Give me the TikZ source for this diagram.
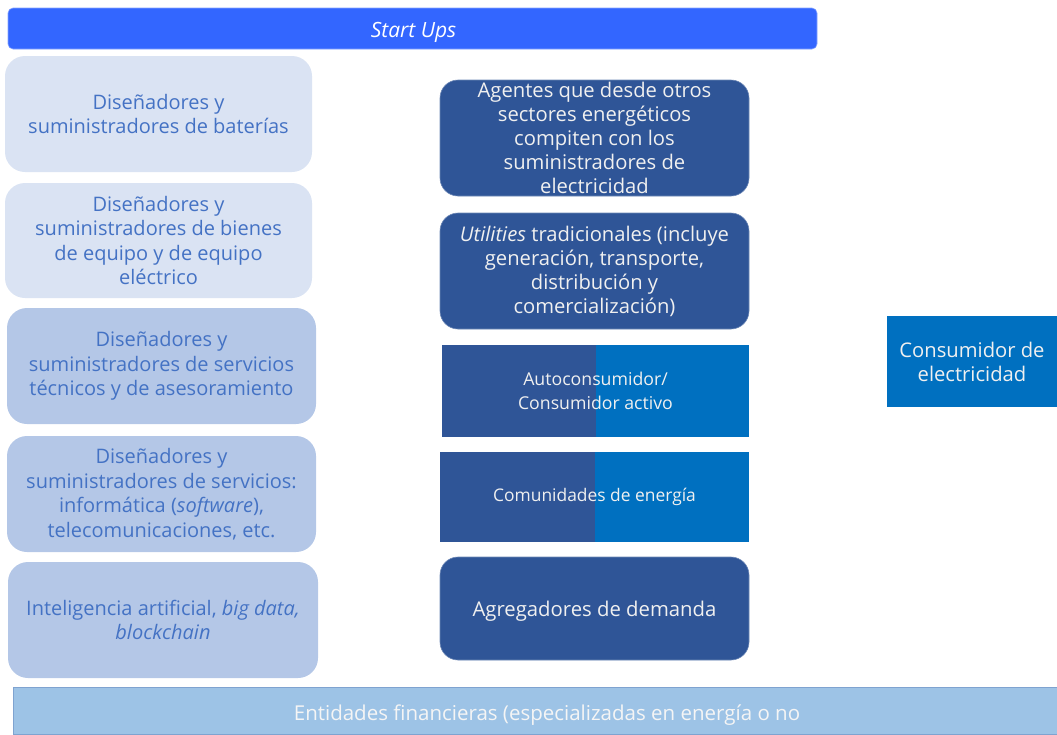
\documentclass[tikz,border=0pt]{standalone}
\usepackage{fontspec}
\setmainfont{Open Sans}
\definecolor{startblue}{HTML}{3366FF}
\definecolor{lightA}{HTML}{DAE3F3}
\definecolor{lightB}{HTML}{B4C7E7}
\definecolor{txtblue}{HTML}{4472C4}
\definecolor{darkblue}{HTML}{2F5597}
\definecolor{midblue}{HTML}{0070C0}
\definecolor{finblue}{HTML}{9DC3E6}
\definecolor{finedge}{HTML}{7FA3D0}
\tikzset{
  lbox/.style={rounded corners=20pt, align=center, inner sep=0pt, text=txtblue,
    font=\fontsize{20}{24.5}\selectfont},
  mbox/.style={rounded corners=18pt, fill=darkblue, draw=darkblue!70!white, line width=0.6pt,
    align=center, inner sep=0pt, text=white!94!black, font=\fontsize{20.2}{24}\selectfont},
  splitbox/.style={fill=darkblue, align=center, inner sep=0pt, text=white!94!black,
    path picture={\fill[midblue] (path picture bounding box.north) rectangle (path picture bounding box.south east);}},
}
\begin{document}
\begin{tikzpicture}[x=1pt,y=-1pt]
\useasboundingbox (0,0) rectangle (1057,734);
\node[rounded corners=5pt, fill=startblue, draw=startblue!60!white, line width=0.6pt,
  minimum width=809pt, minimum height=41pt, inner sep=0pt] (start) at (412.5,28.5) {};
\node[inner sep=0pt, text=white, font=\fontsize{21}{24}\selectfont\itshape, text depth=0pt]
  (starttext) at (413.5,30) {Start Ups};

\node[lbox, fill=lightA, minimum width=307pt, minimum height=116pt] (l1) at (158.5,114)
  {Diseñadores y\\suministradores de baterías};
\node[lbox, fill=lightA, minimum width=307pt, minimum height=115pt] (l2) at (158.5,240.5)
  {Diseñadores y\\suministradores de bienes\\de equipo y de equipo\\eléctrico};
\node[lbox, fill=lightB, minimum width=309pt, minimum height=116pt] (l3) at (161.5,366)
  {Diseñadores y\\suministradores de servicios\\técnicos y de asesoramiento};
\node[lbox, fill=lightB, minimum width=309pt, minimum height=116pt] (l4) at (161.5,494)
  {Diseñadores y\\suministradores de servicios:\\informática (\textit{software}),\\telecomunicaciones, etc.};
\node[lbox, fill=lightB, minimum width=310pt, minimum height=116pt] (l5) at (163,620)
  {Inteligencia artificial, \textit{big data,}\\\textit{blockchain}};

\node[mbox, minimum width=309pt, minimum height=116pt] (m1) at (594.5,138)
  {Agentes que desde otros\\sectores energéticos\\compiten con los\\suministradores de\\electricidad};
\node[mbox, minimum width=309pt, minimum height=116pt] (m2) at (594.5,271)
  {\textit{Utilities} tradicionales (incluye\\generación, transporte,\\distribución y\\comercialización)};
\node[splitbox, minimum width=307pt, minimum height=92pt, font=\fontsize{17.7}{24}\selectfont] (m3) at (595.5,391)
  {Autoconsumidor/\\Consumidor activo};
\node[splitbox, minimum width=309pt, minimum height=90pt, font=\fontsize{17.4}{22}\selectfont] (m4) at (594.5,497)
  {Comunidades de energía};
\node[mbox, minimum width=309pt, minimum height=103pt, font=\fontsize{20.3}{24}\selectfont, text depth=0pt] (m5) at (594.5,608.5)
  {Agregadores de demanda};

\node[fill=midblue, minimum width=170pt, minimum height=91pt, inner sep=0pt, align=center,
  text=white!94!black, font=\fontsize{20.2}{24}\selectfont] (cons) at (972,361.5)
  {Consumidor de\\electricidad};

\node[fill=finblue, draw=finedge, line width=0.8pt, minimum width=1044pt, minimum height=47pt,
  inner sep=0pt] (fin) at (535,710.5) {};
\node[inner sep=0pt, text=white!96!black, font=\fontsize{20.5}{24}\selectfont, text depth=0pt]
  (fintext) at (547,713) {Entidades financieras (especializadas en energía o no};
\end{tikzpicture}
\end{document}
